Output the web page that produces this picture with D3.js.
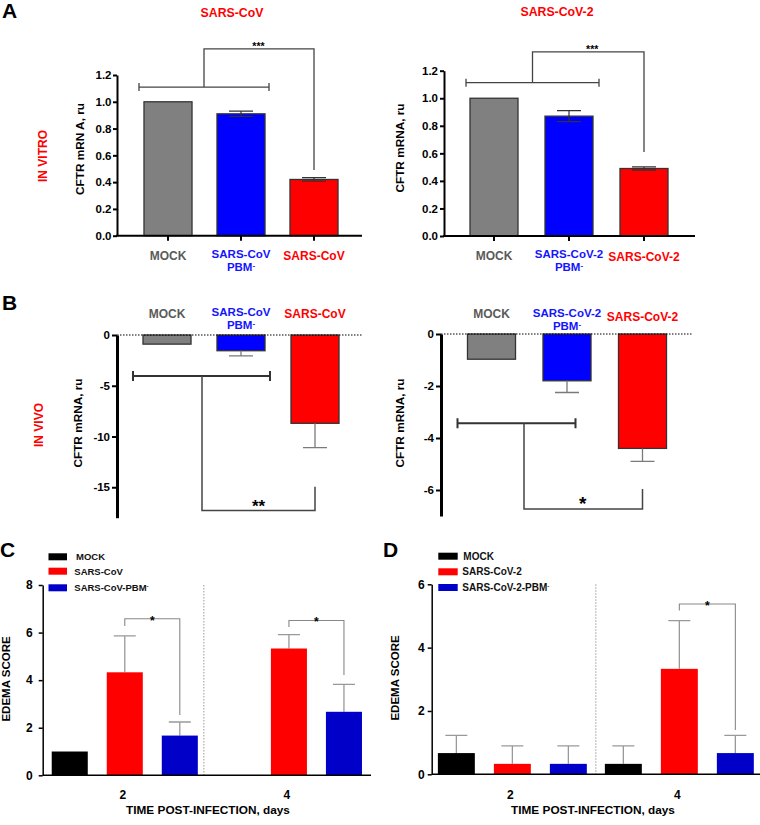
<!DOCTYPE html>
<html><head><meta charset="utf-8">
<script src="https://cdn.jsdelivr.net/npm/d3@7"></script>
<style>
body{margin:0;background:#fff}
svg{display:block}
text{font-family:"Liberation Sans",Arial,sans-serif;font-weight:bold}
</style>
</head><body>
<svg id="chart" width="760" height="825"></svg>
<script>
// ---------- DATA ----------
const groups = ["MOCK", "PBM", "WT"];
const labelsCoV = [["MOCK"], ["SARS-CoV", "PBM"], ["SARS-CoV"]];
const labelsCoV2 = [["MOCK"], ["SARS-CoV-2", "PBM"], ["SARS-CoV-2"]];

const vitroCoV = [1.00, 0.91, 0.42];
const vitroCoVErr = [0, 0.02, 0.013];
const vitroCoV2 = [1.00, 0.87, 0.49];
const vitroCoV2Err = [0, 0.04, 0.012];
const vitroTicks = [0, 0.2, 0.4, 0.6, 0.8, 1.0, 1.2];

const vivoCoV = [-0.9, -1.55, -8.7];
const vivoCoVErr = [0, 0.5, 2.4];
const vivoCoVTicks = [0, -5, -10, -15];
const vivoCoV2 = [-0.97, -1.8, -4.4];
const vivoCoV2Err = [0, 0.45, 0.5];
const vivoCoV2Ticks = [0, -2, -4, -6];

const days = ["2", "4"];
const edemaSeries = ["MOCK", "WT", "PBM"];
const edemaCoVNames = ["MOCK", "SARS-CoV", "SARS-CoV-PBM"];
const edemaCoV2Names = ["MOCK", "SARS-CoV-2", "SARS-CoV-2-PBM"];
const edemaCoVMock = [1.0, 0];
const edemaCoVMockErr = [0, 0];
const edemaCoVWT = [4.33, 5.33];
const edemaCoVWTErr = [1.53, 0.58];
const edemaCoVPBM = [1.67, 2.67];
const edemaCoVPBMErr = [0.57, 1.15];
const edemaCoVTicks = [0, 2, 4, 6, 8];
const edemaCoV2Mock = [0.67, 0.33];
const edemaCoV2MockErr = [0.56, 0.57];
const edemaCoV2WT = [0.33, 3.33];
const edemaCoV2WTErr = [0.57, 1.52];
const edemaCoV2PBM = [0.33, 0.67];
const edemaCoV2PBMErr = [0.57, 0.56];
const edemaCoV2Ticks = [0, 2, 4, 6];

// ---------- STYLE ----------
const barFill = {MOCK: "#808080", PBM: "#0000ff", WT: "#ff0000"};
const labelFill = {MOCK: "#5a5a5a", PBM: "#1414ff", WT: "#ff0000"};
const edemaFill = {MOCK: "#000000", WT: "#ff0000", PBM: "#0000c8"};
const svg = d3.select("#chart");

function styleAxis(g, w, fs, tw) {
  g.select(".domain").attr("stroke", "#000").attr("stroke-width", w);
  g.selectAll(".tick line").attr("stroke", "#000").attr("stroke-width", tw || w);
  g.selectAll(".tick text").attr("font-size", fs).attr("fill", "#000")
    .style("font-family", '"Liberation Sans",Arial,sans-serif').style("font-weight", "bold");
}
function rotLabel(x, y, txt, fs, fill) {
  svg.append("text").attr("transform", `translate(${x},${y}) rotate(-90)`)
    .attr("text-anchor", "middle").attr("dy", "0.35em")
    .attr("font-size", fs).attr("fill", fill || "#000").text(txt);
}
function catLabel(g, cx, lines, baseY, fill, fs) {
  const size = lines.length > 1 ? 11.5 : fs;
  lines.forEach((ln, i) => {
    const t = g.append("text").attr("x", cx).attr("y", baseY[i]).attr("text-anchor", "middle")
      .attr("font-size", size).attr("fill", fill);
    if (ln === "PBM") {
      t.append("tspan").text("PBM");
      t.append("tspan").attr("font-size", 8).attr("dy", -3).text("-");
    } else t.text(ln);
  });
}

// ---------- PANEL A (in vitro) ----------
function drawVitro(o) {
  const g = svg.append("g");
  const x = d3.scaleBand().domain(groups).range(o.xr).paddingInner(o.pi).paddingOuter(o.pi / 2);
  const y = d3.scaleLinear().domain([0, 1.2]).range(o.yr);
  const bw = x.bandwidth();
  const cx = k => x(k) + bw / 2;
  g.selectAll("rect.bar").data(groups).join("rect")
    .attr("x", d => x(d)).attr("y", (d, i) => y(o.vals[i]))
    .attr("width", bw).attr("height", (d, i) => y(0) - y(o.vals[i]))
    .attr("fill", d => barFill[d]).attr("stroke", "#333").attr("stroke-width", 1.3);
  groups.forEach((d, i) => {
    const e = o.errs[i]; if (!e) return;
    const v = o.vals[i], c = cx(d);
    const p = `M${c},${y(v + e)}V${y(v - e)}M${c - 12},${y(v + e)}H${c + 12}M${c - 12},${y(v - e)}H${c + 12}`;
    g.append("path").attr("d", p).attr("stroke", "#333").attr("stroke-width", 1.2).attr("fill", "none");
  });
  const ya = g.append("g").attr("transform", `translate(${o.ax},0)`)
    .call(d3.axisLeft(y).tickValues(vitroTicks).tickFormat(d3.format(".1f")).tickSize(4).tickSizeOuter(0).tickPadding(o.tp));
  styleAxis(ya, 2, 11.5);
  g.append("line").attr("x1", o.ax - 1).attr("x2", o.axEnd).attr("y1", y(0)).attr("y2", y(0))
    .attr("stroke", "#000").attr("stroke-width", 2);
  const xa = g.append("g").attr("transform", `translate(0,${y(0)})`)
    .call(d3.axisBottom(x).tickSize(5).tickFormat(""));
  xa.select(".domain").remove();
  xa.selectAll(".tick line").attr("stroke", "#000").attr("stroke-width", 2);
  groups.forEach((d, i) => catLabel(g, cx(d), o.labels[i], o.labelY[i], labelFill[d], 12));
  const b = o.br;
  const xl = x("MOCK") + b.l, xr2 = x("PBM") + bw + b.r, xm = (xl + xr2) / 2, xw = cx("WT");
  g.append("path").attr("d",
    `M${xl},${y(b.h)}H${xr2}M${xl},${y(b.h) - 4}V${y(b.h) + 4}M${xr2},${y(b.h) - 4}V${y(b.h) + 4}` +
    `M${xm},${y(b.h)}V${y(b.top)}H${xw}V${y(b.end)}`)
    .attr("stroke", "#444").attr("stroke-width", 1.3).attr("fill", "none");
  g.append("text").attr("x", (xm + xw) / 2 + b.sx).attr("y", y(b.top) + 1.5).attr("text-anchor", "middle")
    .attr("font-size", 10.5).text("***");
}

drawVitro({xr: [131.5, 350.5], pi: 0.342, yr: [235.7, 75], ax: 117, axEnd: 362, tp: 1.5,
  vals: vitroCoV, errs: vitroCoVErr, labels: labelsCoV,
  labelY: [[260], [258, 271], [260]],
  br: {h: 1.11, top: 1.395, end: 0.49, l: -5, r: 4, sx: -0.5}});
drawVitro({xr: [456.5, 681.5], pi: 0.36, yr: [236, 70.7], ax: 444, axEnd: 695, tp: 2,
  vals: vitroCoV2, errs: vitroCoV2Err, labels: labelsCoV2,
  labelY: [[260], [257.5, 271], [260.5]],
  br: {h: 1.113, top: 1.337, end: 0.61, l: -4, r: 6, sx: 4}});

// ---------- PANEL B (in vivo) ----------
function drawVivo(o) {
  const g = svg.append("g");
  const x = d3.scaleBand().domain(groups).range(o.xr).paddingInner(o.pi).paddingOuter(o.pi / 2);
  const y = d3.scaleLinear().domain(o.yd).range(o.yr);
  const bw = x.bandwidth();
  const cx = k => x(k) + bw / 2;
  g.selectAll("rect.bar").data(groups).join("rect")
    .attr("x", d => x(d)).attr("y", y(0))
    .attr("width", bw).attr("height", (d, i) => y(o.vals[i]) - y(0))
    .attr("fill", d => barFill[d]).attr("stroke", "#333").attr("stroke-width", 1.3);
  groups.forEach((d, i) => {
    const e = o.errs[i]; if (!e) return;
    const v = o.vals[i], c = cx(d);
    g.append("path").attr("d", `M${c},${y(v)}V${y(v - e)}M${c - 12},${y(v - e)}H${c + 12}`)
      .attr("stroke", "#7a7a7a").attr("stroke-width", 1.3).attr("fill", "none");
  });
  g.append("line").attr("x1", o.ax).attr("x2", o.dotEnd).attr("y1", y(0)).attr("y2", y(0))
    .attr("stroke", "#000").attr("stroke-width", 1).attr("stroke-dasharray", "1.5,1.5");
  const ya = g.append("g").attr("transform", `translate(${o.ax},0)`)
    .call(d3.axisLeft(y).tickValues(o.ticks).tickFormat(d => String(d)).tickSize(5).tickSizeOuter(0).tickPadding(2));
  styleAxis(ya, 3, 11.5, 2);
  groups.forEach((d, i) => catLabel(g, cx(d), o.labels[i], o.labelY[i], labelFill[d], 12));
  const b = o.br;
  const xl = cx("MOCK") + b.l, xr2 = cx("PBM") + b.r, xm = cx("MOCK") + b.m, xw = cx("WT");
  g.append("path").attr("d",
    `M${xl},${y(b.h)}H${xr2}M${xl},${y(b.h) - 5}V${y(b.h) + 5}M${xr2},${y(b.h) - 5}V${y(b.h) + 5}`)
    .attr("stroke", "#333").attr("stroke-width", 2).attr("fill", "none");
  g.append("path").attr("d", `M${xm},${y(b.h)}V${y(b.bot)}H${xw}V${y(b.end)}`)
    .attr("stroke", "#444").attr("stroke-width", 1.5).attr("fill", "none");
  g.append("text").attr("x", b.sx(xm, xw)).attr("y", b.sy).attr("text-anchor", "middle")
    .attr("font-size", b.fs).text(b.star);
}

drawVivo({xr: [130, 352], pi: 0.351, yd: [-18, 0], yr: [517.7, 335], ax: 117, dotEnd: 363,
  vals: vivoCoV, errs: vivoCoVErr, ticks: vivoCoVTicks, labels: labelsCoV,
  labelY: [[318], [316, 329], [318]],
  br: {h: -4.04, l: -34, r: 29, m: 35, bot: -17.3, end: -14.95, star: "**", fs: 17,
       sx: (a, b) => (a + b) / 2, sy: 511.5}});
drawVivo({xr: [453.75, 680.25], pi: 0.364, yd: [-7, 0], yr: [516, 334], ax: 441, dotEnd: 693,
  vals: vivoCoV2, errs: vivoCoV2Err, ticks: vivoCoV2Ticks, labels: labelsCoV2,
  labelY: [[318], [317, 330], [320.5]],
  br: {h: -3.43, l: -34, r: 8.5, m: 32.5, bot: -6.73, end: -5.96, star: "*", fs: 19,
       sx: (a, b) => (a + b) / 2 - 0.5, sy: 510}});

// ---------- PANELS C / D (edema) ----------
function drawEdema(o) {
  const g = svg.append("g");
  const x0 = d3.scaleBand().domain(days).range(o.xr).paddingInner(o.pi).paddingOuter(o.po);
  const x1 = d3.scaleBand().domain(edemaSeries).range([0, x0.bandwidth()]).paddingInner(o.pi1).paddingOuter(0);
  const y = d3.scaleLinear().domain(o.yd).range(o.yr);
  const bw = x1.bandwidth();
  const cx = (day, s) => x0(day) + x1(s) + bw / 2;
  const rows = [];
  days.forEach((day, j) => edemaSeries.forEach(s => rows.push({day, s, v: o.vals[s][j], e: o.errs[s][j]})));
  rows.forEach(r => {
    if (!r.e) return;
    const c = cx(r.day, r.s);
    g.append("path").attr("d", `M${c},${y(r.v)}V${y(r.v + r.e)}M${c - 11},${y(r.v + r.e)}H${c + 11}`)
      .attr("stroke", "#999").attr("stroke-width", 1.3).attr("fill", "none");
  });
  g.selectAll("rect.bar").data(rows).join("rect")
    .attr("x", d => x0(d.day) + x1(d.s)).attr("y", d => y(d.v))
    .attr("width", bw).attr("height", d => y(0) - y(d.v))
    .attr("fill", d => edemaFill[d.s]);
  const sep = (x0("2") + x0.bandwidth() + x0("4")) / 2 + o.sepOff;
  g.append("line").attr("x1", sep).attr("x2", sep).attr("y1", y(o.yd[1])).attr("y2", y(0))
    .attr("stroke", "#999").attr("stroke-width", 1).attr("stroke-dasharray", "1.5,1.5");
  const ya = g.append("g").attr("transform", `translate(${o.ax},0)`)
    .call(d3.axisLeft(y).tickValues(o.ticks).tickFormat(d => String(d)).tickSize(4).tickSizeOuter(0).tickPadding(o.tp));
  styleAxis(ya, 1.5, 12);
  g.append("line").attr("x1", o.ax).attr("x2", o.axEnd).attr("y1", y(0)).attr("y2", y(0))
    .attr("stroke", "#000").attr("stroke-width", 1.5);
  days.forEach(day => g.append("text").attr("x", x0(day) + x0.bandwidth() / 2 - 2).attr("y", 799)
    .attr("text-anchor", "middle").attr("font-size", 12).text(day));
  g.append("text").attr("x", o.titleX).attr("y", 814).attr("text-anchor", "middle")
    .attr("font-size", 11.8).text("TIME POST-INFECTION, days");
  o.br.forEach(b => {
    const xl = cx(b.day, "WT"), xr2 = cx(b.day, "PBM");
    g.append("path").attr("d", `M${xl},${y(b.lb)}V${y(b.top)}H${xr2}V${y(b.rb)}`)
      .attr("stroke", "#888").attr("stroke-width", 1.1).attr("fill", "none");
    g.append("text").attr("x", (xl + xr2) / 2).attr("y", y(b.top) + b.sy).attr("text-anchor", "middle")
      .attr("font-size", 12).text("*");
  });
  edemaSeries.forEach((s, i) => {
    g.append("rect").attr("x", o.lg.x).attr("y", o.lg.ys[i]).attr("width", o.lg.w).attr("height", 7)
      .attr("fill", edemaFill[s]);
    const t = g.append("text").attr("x", o.lg.tx[i]).attr("y", o.lg.ys[i] + 7)
      .attr("font-size", o.lg.fs).attr("fill", "#111");
    t.append("tspan").text(o.names[i]);
    if (s === "PBM") t.append("tspan").attr("font-size", 6).attr("dy", -3.5).text("-");
  });
}

drawEdema({xr: [42.7, 371], pi: 0.11, po: 0.055, pi1: 0.345, yd: [0, 8], yr: [775.3, 585],
  ax: 42.7, axEnd: 371, tp: 6, ticks: edemaCoVTicks, sepOff: -3, titleX: 208,
  vals: {MOCK: edemaCoVMock, WT: edemaCoVWT, PBM: edemaCoVPBM},
  errs: {MOCK: edemaCoVMockErr, WT: edemaCoVWTErr, PBM: edemaCoVPBMErr},
  names: edemaCoVNames,
  br: [{day: "2", top: 6.58, lb: 6.28, rb: 2.53, sy: 6}, {day: "4", top: 6.51, lb: 6.23, rb: 4.22, sy: 6}],
  lg: {x: 48.5, w: 18.5, ys: [553.3, 567.7, 584.3], tx: [76, 74.3, 74.3], fs: 9.5}});
drawEdema({xr: [431.7, 760], pi: 0.108, po: 0.037, pi1: 0.34, yd: [0, 6], yr: [774.3, 584.3],
  ax: 431.7, axEnd: 760, tp: 3, ticks: edemaCoV2Ticks, sepOff: 0, titleX: 593,
  vals: {MOCK: edemaCoV2Mock, WT: edemaCoV2WT, PBM: edemaCoV2PBM},
  errs: {MOCK: edemaCoV2MockErr, WT: edemaCoV2WTErr, PBM: edemaCoV2PBMErr},
  names: edemaCoV2Names,
  br: [{day: "4", top: 5.38, lb: 5.17, rb: 1.40, sy: 6}],
  lg: {x: 438.3, w: 19.4, ys: [552.7, 568.3, 584], tx: [463.3, 462.3, 462.3], fs: 10}});

// ---------- TEXT ----------
[["A", 2, 18], ["B", 2, 310], ["C", 0, 557], ["D", 383, 557]].forEach(([t, x, yy]) =>
  svg.append("text").attr("x", x).attr("y", yy).attr("font-size", 21).text(t));
svg.append("text").attr("x", 232).attr("y", 17).attr("text-anchor", "middle").attr("font-size", 12.3).attr("fill", "#ff0000").text("SARS-CoV");
svg.append("text").attr("x", 557).attr("y", 16).attr("text-anchor", "middle").attr("font-size", 12.3).attr("fill", "#ff0000").text("SARS-CoV-2");
rotLabel(43, 156, "IN VITRO", 12, "#ff0000");
rotLabel(39, 425, "IN VIVO", 12, "#ff0000");
rotLabel(80, 149, "CFTR mRN A, ru", 11.8);
rotLabel(400, 148, "CFTR mRNA, ru", 11.8);
rotLabel(78, 423, "CFTR mRNA, ru", 11.8);
rotLabel(400, 423, "CFTR mRNA, ru", 11.8);
rotLabel(6, 679, "EDEMA SCORE", 11.5);
rotLabel(395, 678, "EDEMA SCORE", 11.5);
</script>
</body></html>
